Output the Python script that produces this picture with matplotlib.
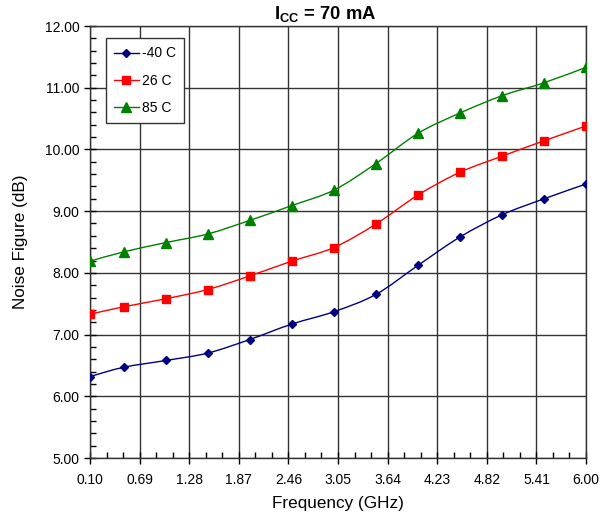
import numpy as np
import matplotlib
matplotlib.use('Agg')
import matplotlib.pyplot as plt
from matplotlib.path import Path
from matplotlib.patches import PathPatch
from matplotlib.ticker import MultipleLocator, FixedLocator

plt.rcParams['font.family'] = ['Liberation Sans', 'DejaVu Sans']
plt.rcParams['mathtext.fontset'] = 'custom'
plt.rcParams['mathtext.bf'] = 'Liberation Sans:bold'
plt.rcParams['mathtext.rm'] = 'Liberation Sans'

### data
freq = [0.1, 0.5, 1.0, 1.5, 2.0, 2.5, 3.0, 3.5, 4.0, 4.5, 5.0, 5.5, 6.0]
nf_m40 = [6.32, 6.47, 6.58, 6.70, 6.92, 7.17, 7.37, 7.65, 8.12, 8.58, 8.94, 9.20, 9.44]
nf_26 = [7.33, 7.45, 7.58, 7.73, 7.95, 8.19, 8.41, 8.79, 9.26, 9.63, 9.89, 10.14, 10.38]
nf_85 = [8.19, 8.34, 8.49, 8.63, 8.85, 9.09, 9.34, 9.77, 10.26, 10.59, 10.87, 11.08, 11.33]
labels = ['-40 C', '26 C', '85 C']
xticks = [0.10, 0.69, 1.28, 1.87, 2.46, 3.05, 3.64, 4.23, 4.82, 5.41, 6.00]


def smooth_path(x, y):
	# catmull-rom style bezier through the points, like a smoothed line
	x = np.asarray(x, float)
	y = np.asarray(y, float)
	n = len(x)
	verts = [(x[0], y[0])]
	codes = [Path.MOVETO]
	for i in range(n - 1):
		p0 = i - 1 if i > 0 else i
		p3 = i + 2 if i + 2 < n else i + 1
		c1 = (x[i] + (x[i+1] - x[p0]) / 6.0, y[i] + (y[i+1] - y[p0]) / 6.0)
		c2 = (x[i+1] - (x[p3] - x[i]) / 6.0, y[i+1] - (y[p3] - y[i]) / 6.0)
		verts += [c1, c2, (x[i+1], y[i+1])]
		codes += [Path.CURVE4] * 3
	return Path(verts, codes)


fig = plt.figure(figsize=(6.11, 5.16), dpi=100)
ax = fig.add_axes([0.1473, 0.1124, 0.8118, 0.8372])

series = [nf_m40, nf_26, nf_85]
colors = ['#000080', '#FF0000', '#008000']
markers = ['D', 's', '^']
msizes = [4.5, 6, 6.5]
for vals, c, m, ms, lab in zip(series, colors, markers, msizes, labels):
	ax.add_patch(PathPatch(smooth_path(freq, vals), facecolor='none', edgecolor=c, lw=1.0, zorder=3))
	ax.plot(freq, vals, linestyle='none', marker=m, ms=ms, color=c, zorder=4)
	ax.plot([], [], color=c, lw=1.0, marker=m, ms=ms, label=lab)

ax.set_xlim(0.10, 6.00)
ax.set_ylim(5.0, 12.0)
ax.xaxis.set_major_locator(FixedLocator(xticks))
ax.xaxis.set_minor_locator(FixedLocator(np.arange(0.10, 6.0, 0.59 / 3)))
ax.set_xticklabels(['%.2f' % t for t in xticks])
ax.yaxis.set_major_locator(MultipleLocator(1.0))
ax.yaxis.set_minor_locator(MultipleLocator(0.2))
ax.yaxis.set_major_formatter(plt.FormatStrFormatter('%.2f'))

ax.tick_params(which='major', direction='inout', length=9, width=1, labelsize=10, colors='black', pad=6)
ax.tick_params(axis='y', which='major', pad=3)
ax.tick_params(which='minor', direction='in', length=4, width=1)
ax.grid(True, which='major', color='#333333', lw=1.0)
for s in ax.spines.values():
	s.set_color('#333333')
	s.set_linewidth(1.0)

ax.set_xlabel('Frequency (GHz)', fontsize=12.3, labelpad=7)
ax.set_ylabel('Noise Figure (dB)', fontsize=12.3, labelpad=12)
ax.set_title(r'I$_{\mathbf{CC}}$ = 70 mA', fontsize=13.3, fontweight='bold', pad=5, x=0.474)

leg = ax.legend(loc='upper left', bbox_to_anchor=(0.032, 0.972), borderaxespad=0, fontsize=10,
	fancybox=False, framealpha=1, edgecolor='#333333', handlelength=1.75, handletextpad=0.25,
	labelspacing=0.95, borderpad=0.6)
leg.get_frame().set_linewidth(1.0)

fig.savefig('out.png', dpi=100)
